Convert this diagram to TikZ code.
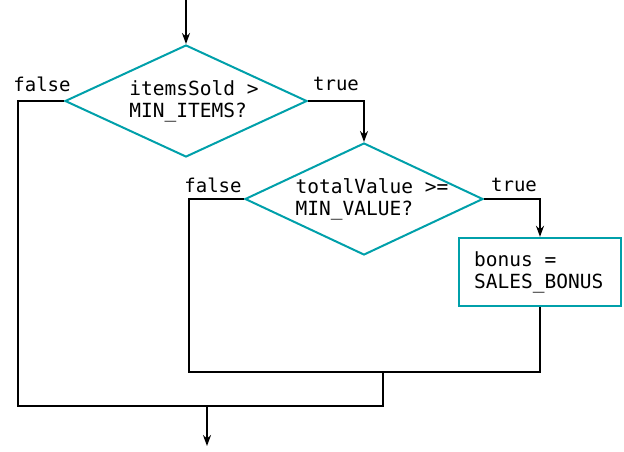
\documentclass[tikz,border=0pt]{standalone}
\usepackage{fontspec}
\setmonofont{DejaVu Sans Mono}
\usetikzlibrary{shapes.geometric,arrows.meta}
\definecolor{teal1}{RGB}{0,160,170}
\begin{document}
\begin{tikzpicture}[x=1pt,y=-1pt,
  dia/.style={diamond,draw=teal1,line width=2pt,aspect=2.15,minimum width=242pt,minimum height=112pt,inner sep=0pt},
  txt/.style={align=left,inner sep=0pt,font=\ttfamily\fontsize{19.5}{22}\selectfont},
  box/.style={rectangle,draw=teal1,line width=2.4pt,minimum width=162pt,minimum height=68pt},
  lab/.style={font=\ttfamily\fontsize{19}{22}\selectfont},
  ln/.style={line width=2pt},
  arr/.style={ln,-{Stealth[length=11pt,width=8pt]}}]
\useasboundingbox (0,0) rectangle (624,451);
\node[dia] (d1) at (186,101) {};
\node[txt] (d1t) at (194,101) {itemsSold >\\MIN\_ITEMS?};
\node[dia,minimum width=238pt] (d2) at (364,199) {};
\node[txt] (d2t) at (372,199) {totalValue >=\\MIN\_VALUE?};
\node[box] (b) at (540,272) {};
\node[txt,anchor=west] (bt) at (474,272) {bonus =\\SALES\_BONUS};
\coordinate (top) at (186,0);
\coordinate (m1) at (383,372);
\coordinate (m2) at (207,406);
\coordinate (end) at (207,446);
\draw[arr] (top) -- (d1.north);
\draw[ln] (d1.west) -- (18,101) -- (18,406) -- (383,406) -- (m1);
\draw[arr] (d1.east) -- (364,101) -- (d2.north);
\draw[ln] (d2.west) -- (189,199) -- (189,372) -- (540,372) -- (b.south);
\draw[arr] (d2.east) -- (540,199) -- (b.north);
\draw[arr] (m2) -- (end);
\node[lab] (f1) at (42,84) {false};
\node[lab] (t1) at (336,84) {true};
\node[lab] (f2) at (213,185) {false};
\node[lab] (t2) at (514,185) {true};
\end{tikzpicture}
\end{document}
